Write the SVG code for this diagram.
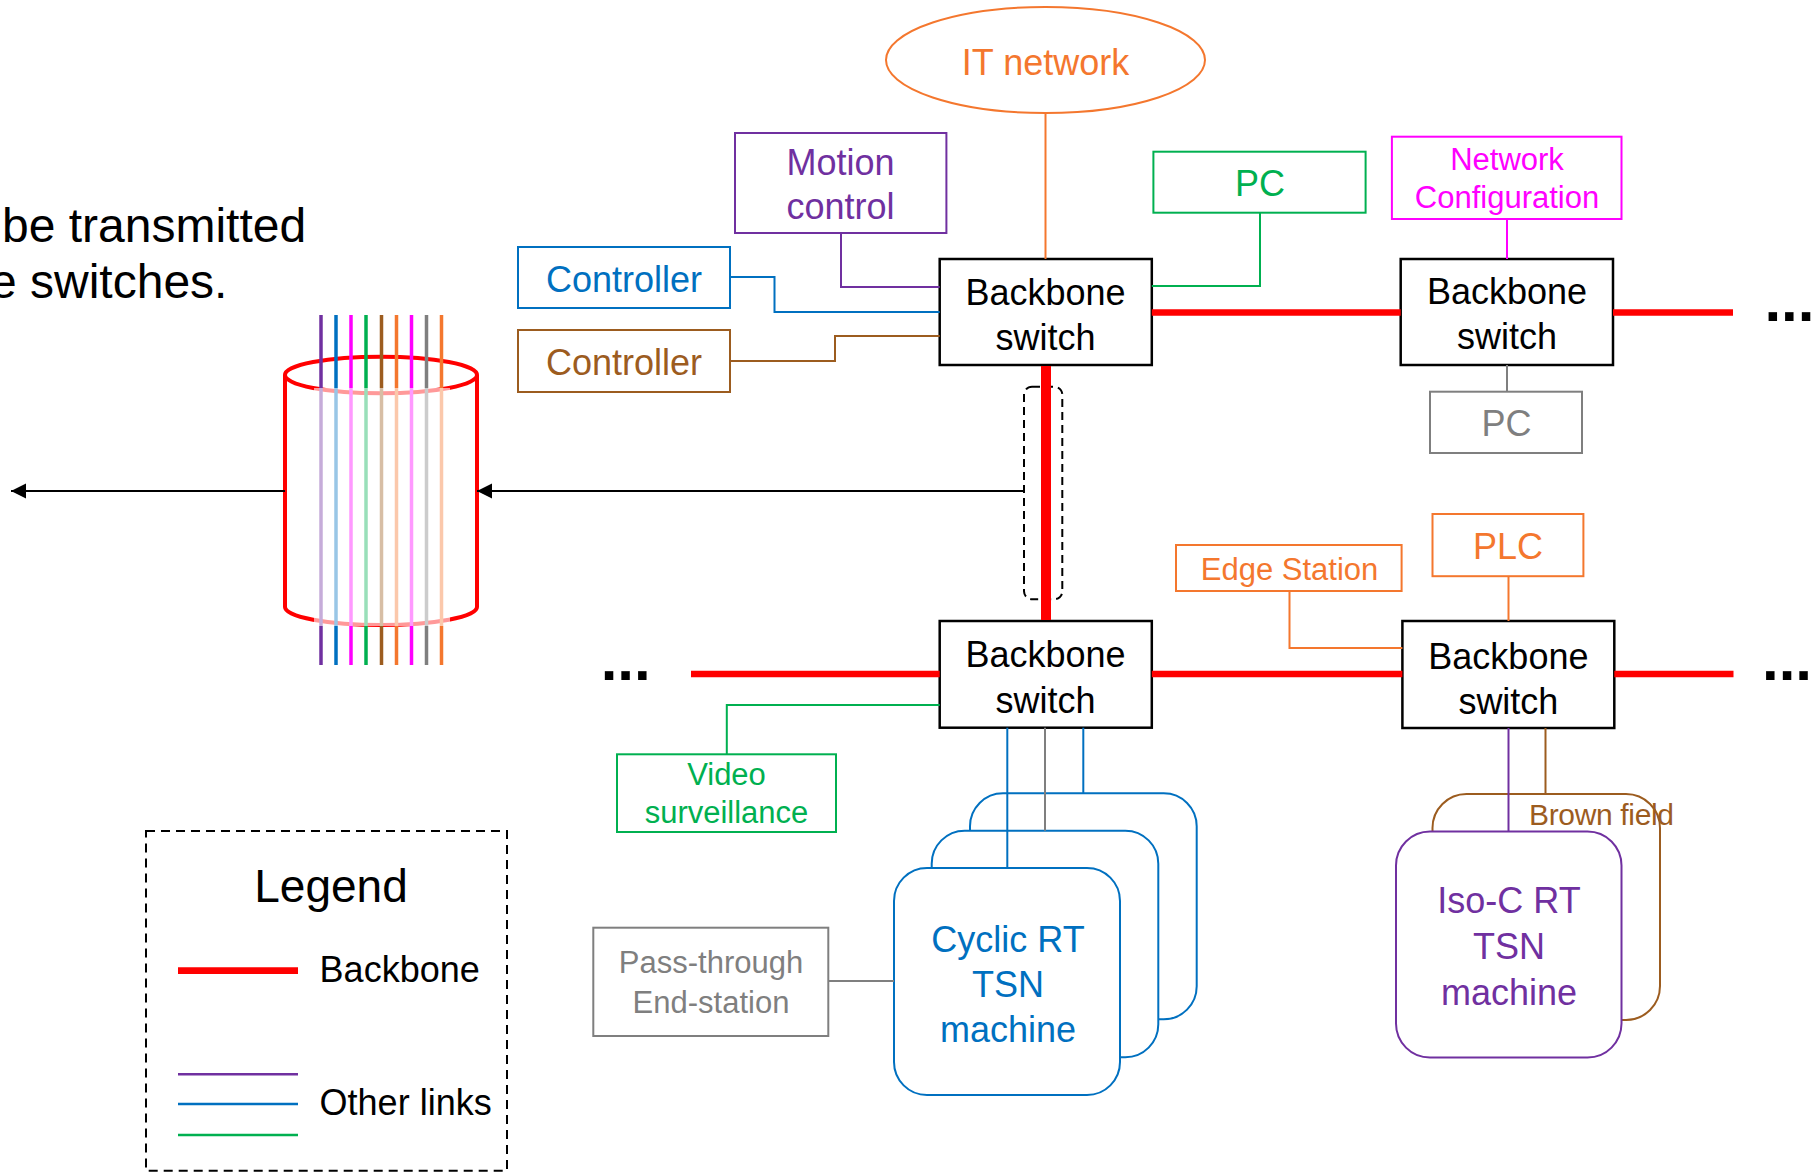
<svg xmlns="http://www.w3.org/2000/svg" width="1813" height="1172" viewBox="0 0 1813 1172">
  <defs>
    <marker id="arrowhead" markerUnits="userSpaceOnUse" markerWidth="16" markerHeight="16" refX="15" refY="7.5" orient="auto">
      <path d="M0,0 L15,7.5 L0,15 z" fill="#000"/>
    </marker>
  </defs>
  <style>
    text { font-family: "Liberation Sans", Arial, sans-serif; }
    .c { text-anchor: middle; }
    .f36 { font-size: 36px; }
    .f31 { font-size: 31px; }
    .box { fill: #fff; stroke-width: 2; }
    .switch rect { fill: #fff; stroke: #000; stroke-width: 2.5; }
    .switch text { font-size: 36px; text-anchor: middle; fill: #000; }
    .link { fill: none; stroke-width: 2; }
    .backbone { fill: none; stroke: #f00; stroke-width: 6.5; }
    .dots { font-size: 60px; font-weight: bold; fill: #000; }
    .purple { stroke: #7030A0; }
    .blue { stroke: #0070C0; }
    .magenta { stroke: #FF00FF; }
    .green { stroke: #00B050; }
    .brown { stroke: #9C5C1F; }
    .orange { stroke: #F4772E; }
    .gray { stroke: #7F7F7F; }
    .tpurple { fill: #7030A0; }
    .tblue { fill: #0070C0; }
    .tmagenta { fill: #FF00FF; }
    .tgreen { fill: #00B050; }
    .tbrown { fill: #9C5C1F; }
    .torange { fill: #F4772E; }
    .tgray { fill: #7F7F7F; }
    .wire { stroke-width: 3.5; }
  </style>

  <rect x="0" y="0" width="1813" height="1172" fill="#fff"/>

  <!-- caption, partly outside the left edge -->
  <g id="caption" font-size="48" fill="#000">
    <text x="2" y="242">be transmitted</text>
    <text x="-10" y="298">e switches.</text>
  </g>

  <!-- bundled traffic drawn as a cable with coloured wires -->
  <g id="cable">
    <path d="M285,375 L285,607 A96,18 0 0 0 477,607 L477,375" fill="#fff" stroke="#f00" stroke-width="4"/>
    <ellipse cx="381" cy="375" rx="96" ry="18.3" fill="none" stroke="#f00" stroke-width="4"/>
    <g class="wire">
      <line x1="321" y1="315" x2="321" y2="665" stroke="#7030A0"/>
      <line x1="336" y1="315" x2="336" y2="665" stroke="#0070C0"/>
      <line x1="351" y1="315" x2="351" y2="665" stroke="#FF00FF"/>
      <line x1="366" y1="315" x2="366" y2="665" stroke="#00B050"/>
      <line x1="381.5" y1="315" x2="381.5" y2="665" stroke="#9C5C1F"/>
      <line x1="396.5" y1="315" x2="396.5" y2="665" stroke="#F4772E"/>
      <line x1="411.5" y1="315" x2="411.5" y2="665" stroke="#FF00FF"/>
      <line x1="426.5" y1="315" x2="426.5" y2="665" stroke="#7F7F7F"/>
      <line x1="441.5" y1="315" x2="441.5" y2="665" stroke="#F4772E"/>
    </g>
    <!-- body of the cable washes out the wires inside it -->
    <rect x="314" y="388" width="136" height="238" fill="#fff" opacity="0.6"/>
  </g>

  <!-- dashed outline round the vertical backbone -->
  <g id="bundle-outline">
    <rect x="1024" y="386.7" width="38.3" height="212.6" rx="8" fill="none" stroke="#000" stroke-width="2" stroke-dasharray="8 5"/>
  </g>

  <!-- nodes -->
  <g id="it-network">
    <ellipse cx="1045.5" cy="60" rx="159.5" ry="53" fill="#fff" stroke="#F4772E" stroke-width="2"/>
    <text class="c f36 torange" x="1045.5" y="75">IT network</text>
  </g>

  <g id="motion-control">
    <rect class="box purple" x="735" y="133" width="211.4" height="100"/>
    <text class="c f36 tpurple" x="840.6" y="175">Motion</text>
    <text class="c f36 tpurple" x="840.6" y="219">control</text>
  </g>

  <g id="controller-blue">
    <rect class="box blue" x="518" y="247" width="212" height="61"/>
    <text class="c f36 tblue" x="624" y="292">Controller</text>
  </g>

  <g id="controller-brown">
    <rect class="box brown" x="518" y="330" width="212" height="62"/>
    <text class="c f36 tbrown" x="624" y="375">Controller</text>
  </g>

  <g id="pc-green">
    <rect class="box green" x="1153.4" y="151.7" width="212.2" height="61"/>
    <text class="c f36 tgreen" x="1260" y="196">PC</text>
  </g>

  <g id="network-configuration">
    <rect class="box magenta" x="1391.9" y="136.7" width="229.6" height="82.3"/>
    <text class="c f31 tmagenta" x="1507" y="170">Network</text>
    <text class="c f31 tmagenta" x="1507" y="208">Configuration</text>
  </g>

  <g id="pc-gray">
    <rect class="box gray" x="1430" y="391.7" width="152" height="61.3"/>
    <text class="c f36 tgray" x="1506.5" y="436">PC</text>
  </g>

  <g id="edge-station">
    <rect class="box orange" x="1176" y="545" width="225.6" height="46"/>
    <text class="c f31 torange" x="1289.5" y="580.3">Edge Station</text>
  </g>

  <g id="plc">
    <rect class="box orange" x="1432.5" y="514" width="150.9" height="62.2"/>
    <text class="c f36 torange" x="1508" y="558.8">PLC</text>
  </g>

  <g id="video-surveillance">
    <rect class="box green" x="617" y="754.3" width="219" height="77.7"/>
    <text class="c f31 tgreen" x="726.5" y="785">Video</text>
    <text class="c f31 tgreen" x="726.5" y="823">surveillance</text>
  </g>

  <g id="pass-through">
    <rect class="box gray" x="593.3" y="927.7" width="235" height="108.3"/>
    <text class="c f31 tgray" x="711" y="973">Pass-through</text>
    <text class="c f31 tgray" x="711" y="1012.7">End-station</text>
  </g>

  <g id="switch-1" class="switch">
    <rect x="939.7" y="259" width="212.1" height="106"/>
    <text x="1045.5" y="305">Backbone</text>
    <text x="1045.5" y="350">switch</text>
  </g>

  <g id="switch-2" class="switch">
    <rect x="1400.7" y="259" width="212.3" height="106"/>
    <text x="1507" y="304">Backbone</text>
    <text x="1507" y="349">switch</text>
  </g>

  <g id="switch-3" class="switch">
    <rect x="939.7" y="621" width="212.1" height="106.7"/>
    <text x="1045.5" y="667">Backbone</text>
    <text x="1045.5" y="712.7">switch</text>
  </g>

  <g id="switch-4" class="switch">
    <rect x="1402.4" y="621" width="211.9" height="107"/>
    <text x="1508.4" y="668.6">Backbone</text>
    <text x="1508.4" y="714.2">switch</text>
  </g>

  <g id="cyclic-machines">
    <rect class="box blue" x="970" y="793.3" width="226.7" height="226" rx="33"/>
    <rect class="box blue" x="931.7" y="830.7" width="226.6" height="226.6" rx="33"/>
    <rect class="box blue" x="894" y="868" width="226" height="227" rx="33"/>
    <text class="c f36 tblue" x="1008" y="951.7">Cyclic RT</text>
    <text class="c f36 tblue" x="1008" y="996.7">TSN</text>
    <text class="c f36 tblue" x="1008" y="1041.7">machine</text>
  </g>

  <g id="iso-machines">
    <rect class="box brown" x="1432.5" y="794" width="227.5" height="226" rx="34"/>
    <text x="1529" y="825" font-family="Lato, 'Open Sans', sans-serif" font-size="30" textLength="145" class="tbrown">Brown field</text>
    <rect class="box purple" x="1396" y="831.6" width="225.5" height="226" rx="34"/>
    <text class="c f36 tpurple" x="1509" y="913.2">Iso-C RT</text>
    <text class="c f36 tpurple" x="1509" y="958.9">TSN</text>
    <text class="c f36 tpurple" x="1509" y="1004.5">machine</text>
  </g>

  <g id="continuation-marks">
    <text class="dots" x="1764.4" y="320.7">...</text>
    <text class="dots" x="600.7" y="680">...</text>
    <text class="dots" x="1762" y="680">...</text>
  </g>

  <g id="legend">
    <rect x="146" y="831" width="361" height="339.7" fill="none" stroke="#000" stroke-width="2" stroke-dasharray="9 6"/>
    <text x="331" y="901.7" class="c" font-size="46">Legend</text>
    <line x1="178" y1="970.7" x2="298" y2="970.7" stroke="#f00" stroke-width="6.7"/>
    <text x="319.6" y="981.7" class="f36">Backbone</text>
    <line x1="178" y1="1074.3" x2="298" y2="1074.3" stroke="#7030A0" stroke-width="2.5"/>
    <line x1="178" y1="1104" x2="298" y2="1104" stroke="#0070C0" stroke-width="2.5"/>
    <line x1="178" y1="1135" x2="298" y2="1135" stroke="#00B050" stroke-width="2.5"/>
    <text x="319.6" y="1115" class="f36">Other links</text>
  </g>

  <!-- connectors -->
  <g id="connectors">
    <line class="link orange" x1="1045.5" y1="113" x2="1045.5" y2="259"/>
    <polyline class="link purple" points="841,233 841,287 939.7,287"/>
    <polyline class="link blue" points="730,277 774.5,277 774.5,312 939.7,312"/>
    <polyline class="link brown" points="730,361 835,361 835,336 939.7,336"/>
    <polyline class="link green" points="1260,212.7 1260,286 1151.8,286"/>
    <line class="link magenta" x1="1507" y1="219" x2="1507" y2="259"/>
    <line class="link gray" x1="1507" y1="365" x2="1507" y2="391.7"/>
    <polyline class="link green" points="939.7,705 726.8,705 726.8,754.3"/>
    <polyline class="link orange" points="1289.5,591 1289.5,648 1402.4,648"/>
    <line class="link orange" x1="1508.5" y1="576.2" x2="1508.5" y2="621"/>
    <line class="link blue" x1="1007.3" y1="727.7" x2="1007.3" y2="868"/>
    <line class="link gray" x1="1045" y1="727.7" x2="1045" y2="830.7"/>
    <line class="link blue" x1="1083.3" y1="727.7" x2="1083.3" y2="793.3"/>
    <line class="link gray" x1="828.3" y1="981" x2="894" y2="981"/>
    <line class="link purple" x1="1508.5" y1="728" x2="1508.5" y2="831.6"/>
    <line class="link brown" x1="1545.5" y1="728" x2="1545.5" y2="794"/>

    <line class="backbone" x1="1151.8" y1="312.5" x2="1400.7" y2="312.5"/>
    <line class="backbone" x1="1613" y1="312.5" x2="1733" y2="312.5"/>
    <line class="backbone" x1="691" y1="674" x2="939.7" y2="674"/>
    <line class="backbone" x1="1151.8" y1="674" x2="1402.4" y2="674"/>
    <line class="backbone" x1="1614.3" y1="674" x2="1733.5" y2="674"/>
    <line x1="1046" y1="366" x2="1046" y2="620" stroke="#f00" stroke-width="10"/>

    <line x1="1024" y1="491" x2="477" y2="491" stroke="#000" stroke-width="2" marker-end="url(#arrowhead)"/>
    <line x1="285" y1="491" x2="11" y2="491" stroke="#000" stroke-width="2" marker-end="url(#arrowhead)"/>
  </g>
</svg>
